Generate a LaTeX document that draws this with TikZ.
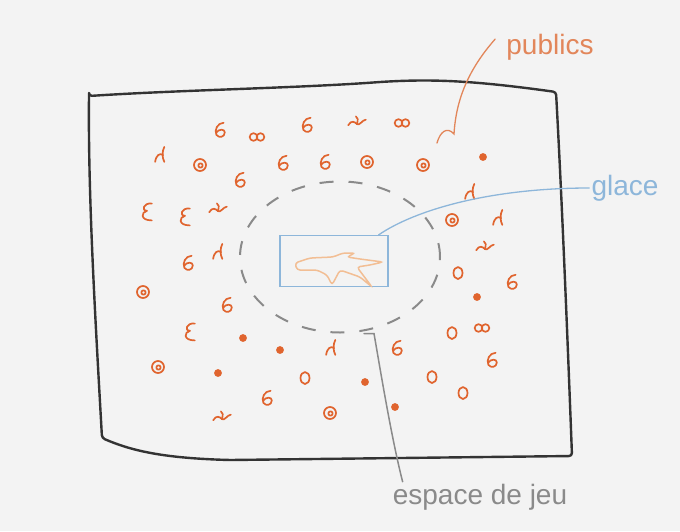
\documentclass[tikz,border=0pt]{standalone}
\usepackage{fontspec}
\setmainfont{Liberation Sans}
\usetikzlibrary{calc}
\usetikzlibrary{positioning}
\usetikzlibrary{shapes.geometric}

\definecolor{paper}{HTML}{F3F3F3}
\definecolor{ink}{HTML}{333333}
\definecolor{crowd}{HTML}{E0642E}
\definecolor{crowdnote}{HTML}{E2865A}
\definecolor{iceblue}{HTML}{8DB6DA}
\definecolor{rink}{HTML}{F2BE94}
\definecolor{pencil}{HTML}{8A8A8A}

\tikzset{
  spot/.style={crowd, line width=1.7pt, line cap=round, line join=round},
  note/.style={font=\fontsize{28}{30}\selectfont, inner sep=2pt},
  % little marks for the spectators
  sixer/.pic={\draw[spot] (3,-6) .. controls (-2,-6) and (-5,0) .. (-3,4)
      .. controls (-1,7) and (4,6) .. (4,2) .. controls (4,-1) and (-1,-1) .. (-3,2);},
  ring/.pic={\draw[spot] (0,0) ellipse [x radius=4.5, y radius=6];},
  dotring/.pic={\draw[spot] (0,0) circle [radius=6]; \draw[spot] (0.5,0.5) circle [radius=2.2];},
  twin/.pic={\draw[spot] (-3.5,0) circle [radius=3.8]; \draw[spot] (3.5,0) circle [radius=3.8];},
  hook/.pic={\draw[spot] (-6,6) .. controls (-5,0) and (-2,-2) .. (1,0);
      \draw[spot] (2,-7) .. controls (0,-3) and (0,2) .. (2,6);},
  curl/.pic={\draw[spot] (4,-7) .. controls (-3,-8) and (-5,-1) .. (0,-1)
      .. controls (-5,0) and (-6,7) .. (4,7);},
  squiggle/.pic={\draw[spot] (-8,2) .. controls (-5,-3) and (-2,-1) .. (0,1)
      .. controls (2,3) and (5,-3) .. (8,-3); \draw[spot] (0,1) .. controls (1,-4) .. (-1,-6);},
  speck/.pic={\filldraw[spot] (0,0) circle [radius=3];}
}

\begin{document}
\begin{tikzpicture}[x=1pt, y=-1pt]
\useasboundingbox (0,0) rectangle (680,531);
\fill[paper] (0,0) rectangle (680,531);

% the hall
\draw[ink, line width=2.4pt, line join=round, rounded corners=3pt]
  (89,96) .. controls (180,90) and (300,88) .. (380,82)
  .. controls (430,79) and (470,80) .. (556,92)
  .. controls (562,200) and (568,350) .. (572,456)
  -- (230,460) .. controls (160,458) and (130,450) .. (102,438)
  .. controls (96,330) and (88,200) .. cycle;

% playing area and ice
\node[ellipse, draw=pencil, line width=2pt, dash pattern=on 14pt off 15pt,
  minimum width=200pt, minimum height=151pt] (area) at (340,257) {};
\node[draw=iceblue, line width=1.2pt, minimum width=108pt, minimum height=51pt] (ice) at (334,261) {};
\draw[rink, line width=1.5pt, rounded corners=3pt]
  (297,270) -- (295,263) -- (310,258) -- (333,257) -- (343,253) -- (355,253)
  -- (347,257) -- (360,259) -- (383,262) -- (370,265) -- (357,267) -- (372,287)
  -- (360,277) -- (340,270) -- (332,285) -- (327,275) -- (317,270) -- cycle;

% spectators
\foreach \p in {(220,130),(307,125),(240,180),(283,163),(325,162),(188,263),
                (512,282),(227,305),(397,348),(492,360),(267,398)}
  \pic[scale=1.2] at \p {sixer};
\foreach \p in {(458,273),(452,333),(305,378),(432,377),(463,393)}
  \pic at \p {ring};
\foreach \p in {(200,165),(367,162),(423,165),(452,220),(143,292),(158,367),(330,413)}
  \pic at \p {dotring};
\foreach \p in {(257,137),(402,123),(482,328)}
  \pic at \p {twin};
\foreach \p in {(162,155),(472,192),(500,218),(220,252),(333,348)}
  \pic[scale=1.15] at \p {hook};
\foreach \p in {(147,212),(185,217),(190,332)}
  \pic[scale=1.2] at \p {curl};
\foreach \p in {(357,123),(218,210),(485,248),(222,418)}
  \pic[scale=1.1] at \p {squiggle};
\foreach \p in {(483,157),(477,297),(243,338),(280,350),(218,373),(365,382),(395,407)}
  \pic at \p {speck};

% labels
\node[note, text=crowdnote] (publics) at (550,47) {publics};
\node[note, text=iceblue] (glace) at (625,188) {glace};
\node[note, text=pencil] (jeu) at (480,497) {espace de jeu};

\coordinate (hookend) at (437,143);
\draw[crowdnote, line width=1.3pt, line cap=round]
  ([xshift=-9pt,yshift=8pt]publics.west) .. controls (468,70) and (456,100) .. (454,134)
  .. controls (447,126) and (440,132) .. (hookend);
\draw[iceblue, line width=1.3pt, line cap=round]
  ([xshift=-10pt]ice.north east) .. controls (415,210) and (490,188) .. (glace.west);
\draw[pencil, line width=1.5pt, line cap=round]
  ([xshift=24pt]area.south) -- ++(10,0) .. controls (382,380) and (392,440) .. ([xshift=12pt]jeu.north west);
\end{tikzpicture}
\end{document}
